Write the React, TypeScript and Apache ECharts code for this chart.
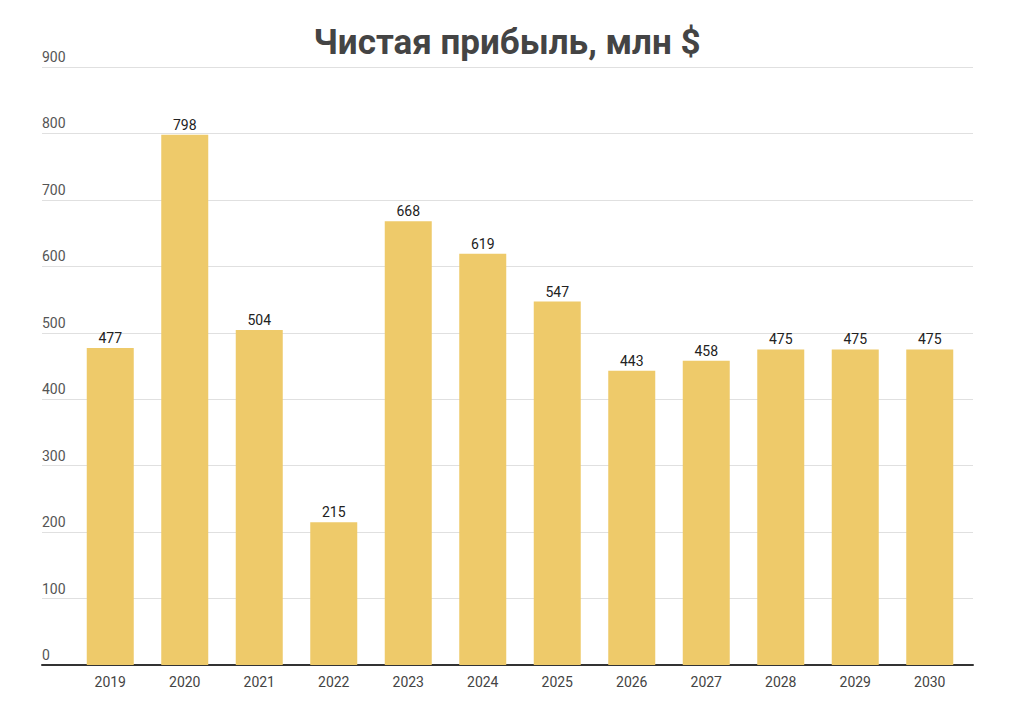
import React, { useEffect, useRef } from "react";
import * as echarts from "echarts";

const years = ["2019", "2020", "2021", "2022", "2023", "2024", "2025", "2026", "2027", "2028", "2029", "2030"];
const profit = [477, 798, 504, 215, 668, 619, 547, 443, 458, 475, 475, 475];
const yTicks = [0, 100, 200, 300, 400, 500, 600, 700, 800, 900];

export default function App() {
  const ref = useRef<HTMLDivElement>(null);
  useEffect(() => {
    if (!ref.current) return;
    const chart = echarts.init(ref.current, null, { renderer: "svg" });
    chart.setOption({
      animation: false,
      backgroundColor: "#ffffff",
      title: {
        text: "Чистая прибыль, млн $",
        left: "center",
        top: 12,
        textStyle: { fontFamily: "Roboto", fontWeight: "bold", fontSize: 35, color: "#444444" },
      },
      grid: [
        { left: 34, right: 33, top: 59, bottom: 37 },
        { left: 65, right: 39, top: 59, bottom: 37 },
      ],
      xAxis: [
        {
          type: "category",
          gridIndex: 0,
          data: [""],
          axisLine: { show: true, lineStyle: { color: "#333333", width: 2 } },
          axisTick: { show: false },
          axisLabel: { show: false },
        },
        {
          type: "category",
          gridIndex: 1,
          data: years,
          axisLine: { show: false },
          axisTick: { show: false },
          axisLabel: { fontFamily: "Roboto", fontSize: 14, color: "#444444", margin: 10 },
        },
      ],
      yAxis: [
        {
          type: "value",
          gridIndex: 0,
          min: 0,
          max: 900,
          interval: 100,
          axisLine: { show: false },
          axisTick: { show: false },
          splitLine: { show: true, lineStyle: { color: "#e0e0e0", width: 1 } },
          axisLabel: {
            inside: true,
            margin: 0,
            align: "left",
            verticalAlign: "bottom",
            padding: [0, 0, 3, 0],
            fontFamily: "Roboto",
            fontSize: 14,
            color: "#555555",
            formatter: (v: number) => (yTicks.includes(v) ? String(v) : ""),
          },
        },
        {
          type: "value",
          gridIndex: 1,
          min: 0,
          max: 900,
          interval: 100,
          show: false,
          splitLine: { show: false },
        },
      ],
      series: [
        {
          type: "bar",
          xAxisIndex: 1,
          yAxisIndex: 1,
          data: profit,
          barWidth: 47,
          itemStyle: { color: "#EECA6A" },
          label: {
            show: true,
            position: "top",
            distance: 3,
            fontFamily: "Roboto",
            fontSize: 14,
            color: "#222222",
          },
          z: 3,
        },
      ],
    });
    return () => chart.dispose();
  }, []);
  return <div ref={ref} style={{ width: 998, height: 694 }} />;
}
